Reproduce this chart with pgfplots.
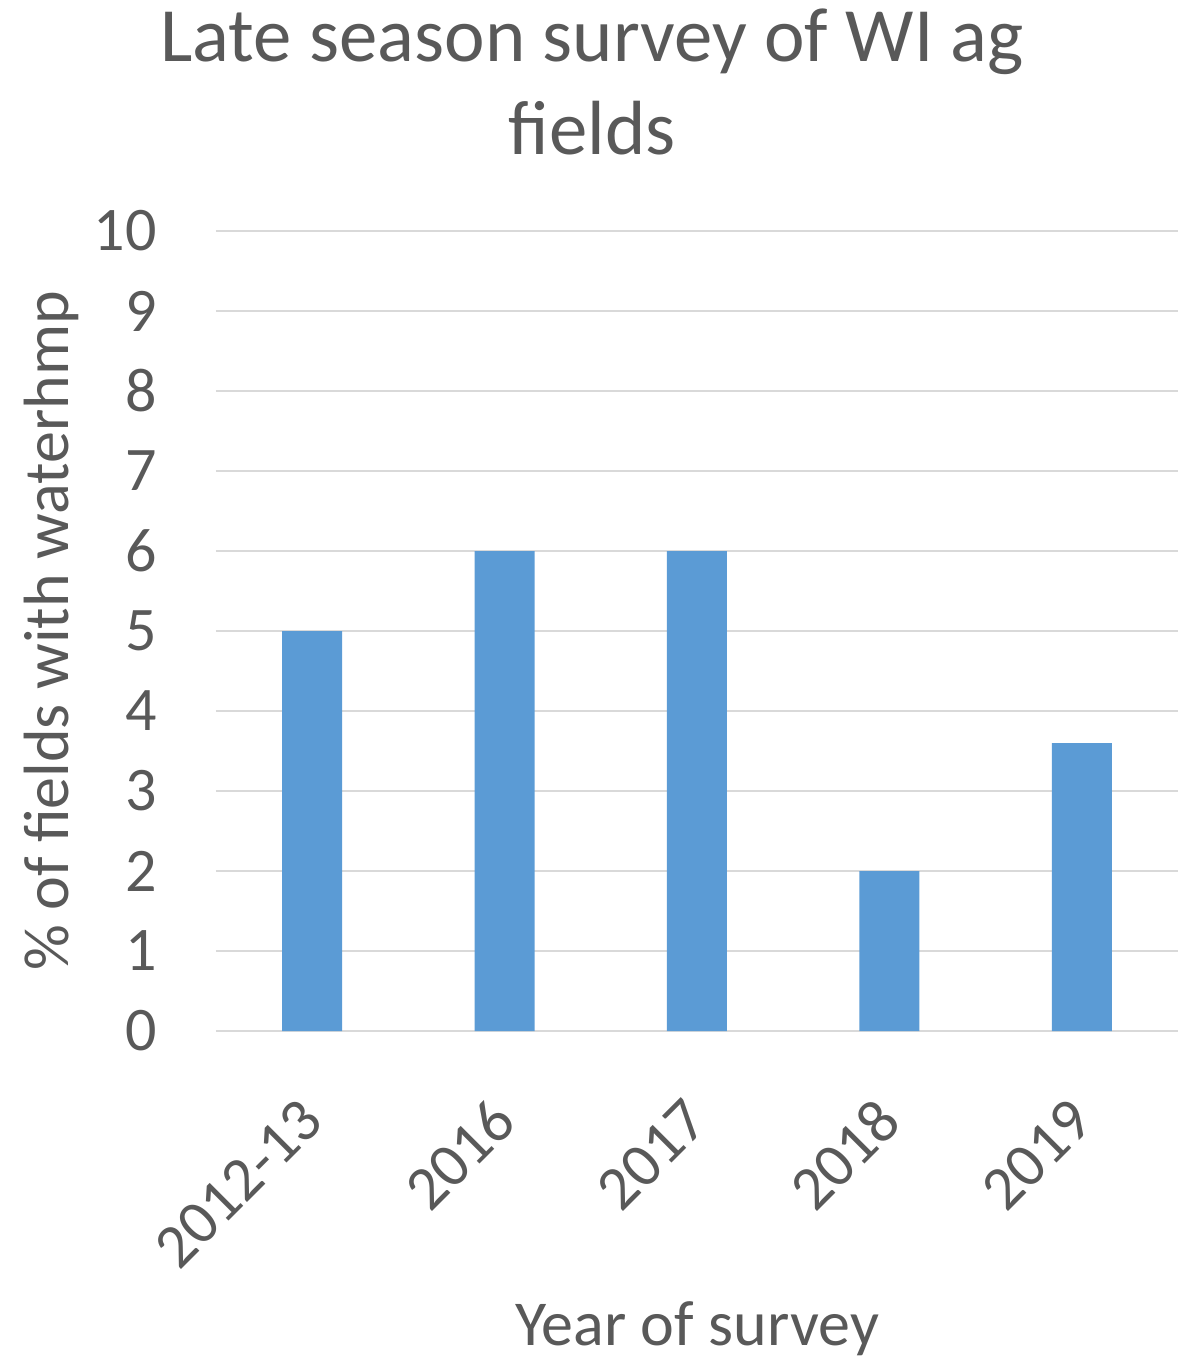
\documentclass[border=0pt]{standalone}
\usepackage{pgfplots}
\pgfplotsset{compat=1.18}
\usepackage{fontspec}
\setmainfont{Carlito}

\definecolor{txtgray}{HTML}{595959}
\definecolor{gridgray}{HTML}{D9D9D9}
\definecolor{barblue}{HTML}{5B9BD5}

\begin{document}
\begin{tikzpicture}
% fixed page frame around the plot area
\path[use as bounding box] (-108pt,-162.5pt) rectangle (486pt,515.5pt);
\begin{axis}[
  at={(0pt,0pt)}, anchor=south west,
  scale only axis, width=481pt, height=400pt,
  ybar, bar width=30pt,
  xmin=-0.5, xmax=4.5, ymin=0, ymax=10,
  enlargelimits=false,
  xtick={0,1,2,3,4},
  xticklabels={2012-13,2016,2017,2018,2019},
  ytick={0,1,...,10},
  /pgf/number format/assume math mode=true,
  major tick length=0pt,
  axis line style={draw=none},
  ymajorgrids,
  major grid style={draw=gridgray, line width=1pt},
  tick label style={font=\fontsize{31}{37}\selectfont, text=txtgray},
  yticklabel style={anchor=east, inner sep=0pt, xshift=-29.5pt},
  xticklabel style={yshift=-39.5pt, rotate=45, anchor=east, inner sep=0pt},
  title={Late season survey of WI ag\\fields},
  title style={font=\fontsize{38.4}{46.5}\selectfont, text=txtgray, align=center,
    at={(axis description cs:0.391,1.079)}, anchor=south, inner sep=0pt},
  xlabel={Year of survey},
  xlabel style={font=\fontsize{32}{38}\selectfont, text=txtgray,
    at={(axis description cs:0.5,-0.3925)}, anchor=base, inner sep=0pt},
  ylabel={\% of fields with waterhmp},
  ylabel style={font=\fontsize{32}{38}\selectfont, text=txtgray,
    at={(axis description cs:-0.1538,0.5)}, anchor=base, inner sep=0pt},
]
\addplot[fill=barblue, draw=none] coordinates {(0,5) (1,6) (2,6) (3,2) (4,3.6)};
\end{axis}
\end{tikzpicture}
\end{document}
